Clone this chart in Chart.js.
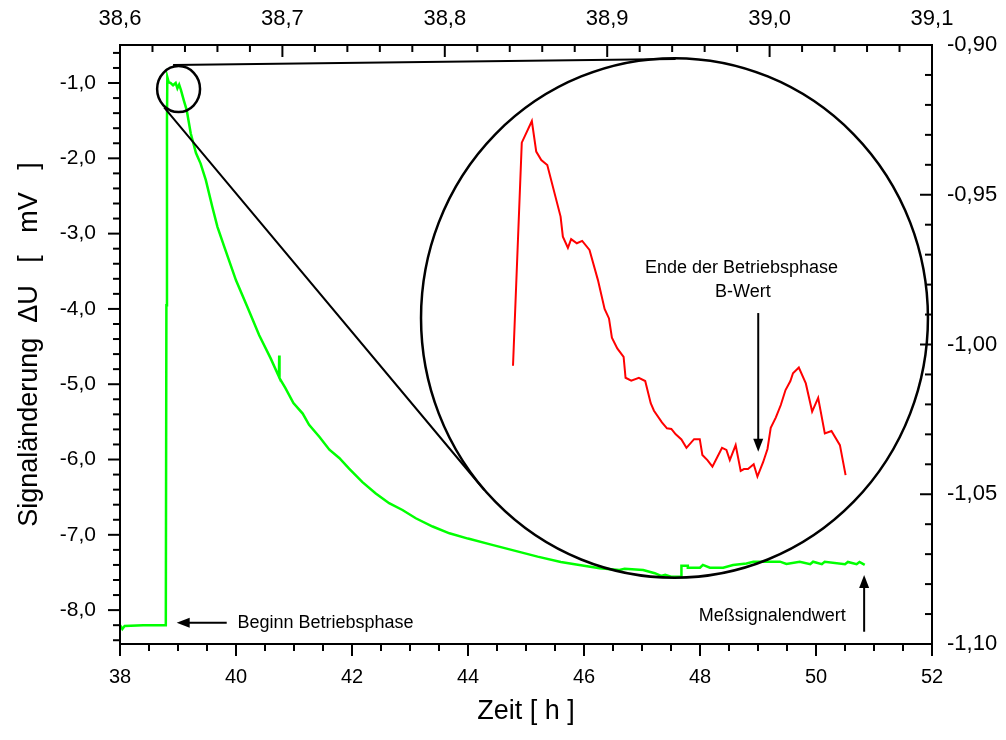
<!DOCTYPE html>
<html>
<head>
<meta charset="utf-8">
<script src="https://cdn.jsdelivr.net/npm/chart.js"></script>
<style>
  body { margin: 0; background: #fff; }
  #wrap { width: 1006px; height: 740px; }
</style>
</head>
<body>
<div id="wrap"><canvas id="chart" width="1006" height="740"></canvas></div>
<script>
// full run (bottom / left axes)
const greenTime = [38.00, 38.04, 38.08, 38.40, 38.79, 38.80, 38.81, 38.816, 38.84, 38.875, 38.915, 38.96, 38.99, 39.02, 39.05,
  39.10, 39.15, 39.22, 39.31, 39.39, 39.48, 39.59, 39.68, 39.80, 40.00, 40.20, 40.40, 40.60, 40.74, 40.745, 40.75, 40.85,
  40.99, 41.15, 41.26, 41.44, 41.61, 41.78, 41.95, 42.18, 42.41, 42.64, 42.87, 43.10, 43.39, 43.68, 44.00, 44.40, 44.80,
  45.20, 45.60, 46.00, 46.27, 46.61, 46.70, 47.02, 47.22, 47.33, 47.40, 47.50, 47.68, 47.68, 47.79, 47.79, 48.00, 48.05,
  48.17, 48.40, 48.57, 48.80, 48.92, 49.38, 49.49, 49.72, 49.90, 49.95, 50.10, 50.15, 50.50, 50.55, 50.70, 50.75, 50.84];
const greenSignal = [-8.20, -8.25, -8.21, -8.20, -8.20, -3.95, -1.50, -0.92, -0.99, -1.00, -1.03, -1.00, -1.07, -1.02, -1.09,
  -1.23, -1.36, -1.67, -1.93, -2.07, -2.29, -2.64, -2.91, -3.18, -3.62, -3.98, -4.35, -4.66, -4.90, -4.62, -4.92, -5.05,
  -5.25, -5.39, -5.54, -5.70, -5.87, -5.98, -6.12, -6.30, -6.45, -6.58, -6.67, -6.78, -6.89, -6.98, -7.05, -7.13, -7.21,
  -7.29, -7.36, -7.41, -7.445, -7.467, -7.45, -7.467, -7.51, -7.547, -7.53, -7.556, -7.556, -7.41, -7.41, -7.437, -7.437, -7.40,
  -7.437, -7.437, -7.40, -7.38, -7.357, -7.357, -7.388, -7.357, -7.39, -7.357, -7.39, -7.357, -7.39, -7.36, -7.39, -7.36, -7.40];

// zoomed peak (top / right axes)
const redTime = [38.8420, 38.8474, 38.8536, 38.8563, 38.8594, 38.8631, 38.8713, 38.8727, 38.8758, 38.8778, 38.8813, 38.8846,
  38.8891, 38.8943, 38.8984, 38.9011, 38.9029, 38.9062, 38.9101, 38.9113, 38.9148, 38.9195, 38.9234, 38.9268, 38.9288,
  38.9337, 38.9368, 38.9395, 38.9422, 38.9457, 38.9488, 38.9535, 38.9570, 38.9586, 38.9617, 38.9648, 38.9679, 38.9707,
  38.9734, 38.9755, 38.9791, 38.9822, 38.9842, 38.9867, 38.9902, 38.9925, 38.9960, 38.9987, 39.0007, 39.0038, 39.0069,
  39.0098, 39.0128, 39.0144, 39.0180, 39.0223, 39.0262, 39.0299, 39.0340, 39.0381, 39.0433, 39.0468];
const redSignal = [-1.0071, -0.9326, -0.9254, -0.9356, -0.9384, -0.9401, -0.9573, -0.9640, -0.9677, -0.9648, -0.9662, -0.9654,
  -0.9684, -0.9785, -0.9881, -0.9913, -0.9977, -1.0013, -1.0041, -1.0111, -1.0121, -1.0111, -1.0122, -1.0196, -1.0221,
  -1.0260, -1.0280, -1.0282, -1.0300, -1.0317, -1.0345, -1.0316, -1.0316, -1.0369, -1.0386, -1.0408, -1.0375, -1.0345,
  -1.0352, -1.0386, -1.0336, -1.0422, -1.0416, -1.0416, -1.0400, -1.0441, -1.0393, -1.0349, -1.0278, -1.0244, -1.0202,
  -1.0152, -1.0122, -1.0096, -1.0077, -1.0130, -1.0224, -1.0178, -1.0297, -1.0289, -1.0336, -1.0436];

const bottomTicks = [38, 40, 42, 44, 46, 48, 50, 52];
const topTicks = [38.6, 38.7, 38.8, 38.9, 39.0, 39.1];
const leftTicks = [-8, -7, -6, -5, -4, -3, -2, -1];
const rightTicks = [-1.10, -1.05, -1.00, -0.95, -0.90];

const FONT = "'Liberation Sans', Arial, sans-serif";
const comma = (v, d) => v.toFixed(d).replace('.', ',');

// zoom decoration, in axis units
const spot = { x: 39.01, y: -1.08, rx: 0.37, ry: 0.305 };
const lens = { x: 47.56, y: -4.12, rx: 4.37, ry: 3.45 };

function drawArrow(ctx, x1, y1, x2, y2) {
  const a = Math.atan2(y2 - y1, x2 - x1);
  const len = 13, half = 5;
  ctx.beginPath();
  ctx.moveTo(x1, y1);
  ctx.lineTo(x2 - Math.cos(a) * len * 0.8, y2 - Math.sin(a) * len * 0.8);
  ctx.stroke();
  ctx.beginPath();
  ctx.moveTo(x2, y2);
  ctx.lineTo(x2 - Math.cos(a) * len - Math.sin(a) * half, y2 - Math.sin(a) * len + Math.cos(a) * half);
  ctx.lineTo(x2 - Math.cos(a) * len + Math.sin(a) * half, y2 - Math.sin(a) * len - Math.cos(a) * half);
  ctx.closePath();
  ctx.fill();
}

function marks(ctx, scale, from, count, step, majors, horiz, base, dir) {
  for (let i = 0; i <= count; i++) {
    const v = from + i * step;
    const major = majors.some(m => Math.abs(m - v) < step / 10);
    const len = major ? 12 : 7;
    const p = scale.getPixelForValue(v);
    ctx.beginPath();
    if (horiz) { ctx.moveTo(p, base); ctx.lineTo(p, base + dir * len); }
    else { ctx.moveTo(base, p); ctx.lineTo(base + dir * len, p); }
    ctx.stroke();
  }
}

const decor = {
  id: 'decor',
  afterDraw(chart) {
    const { ctx, chartArea: a, scales: s } = chart;
    ctx.save();
    ctx.strokeStyle = '#000';
    ctx.fillStyle = '#000';
    ctx.lineWidth = 2;
    ctx.strokeRect(a.left, a.top, a.right - a.left, a.bottom - a.top);

    marks(ctx, s.y, -8.4, 39, 0.2, leftTicks, false, a.left, -1);
    marks(ctx, s.x, 38, 28, 0.5, bottomTicks, true, a.bottom, 1);
    marks(ctx, s.x2, 38.6, 25, 0.02, topTicks, true, a.top, 1);
    marks(ctx, s.y2, -1.10, 20, 0.01, rightTicks, false, a.right, -1);

    // zoom circles and connecting lines
    const ux = s.x.getPixelForValue(1) - s.x.getPixelForValue(0);
    const uy = s.y.getPixelForValue(0) - s.y.getPixelForValue(1);
    ctx.lineWidth = 2.5;
    [spot, lens].forEach(c => {
      ctx.beginPath();
      ctx.ellipse(s.x.getPixelForValue(c.x), s.y.getPixelForValue(c.y), c.rx * ux, c.ry * uy, 0, 0, Math.PI * 2);
      ctx.stroke();
    });
    ctx.lineWidth = 2;
    ctx.beginPath();
    ctx.moveTo(s.x.getPixelForValue(38.915), s.y.getPixelForValue(-0.761));
    ctx.lineTo(s.x.getPixelForValue(47.58), s.y.getPixelForValue(-0.681));
    ctx.moveTo(s.x.getPixelForValue(38.76), s.y.getPixelForValue(-1.323));
    ctx.lineTo(s.x.getPixelForValue(44.28), s.y.getPixelForValue(-6.405));
    ctx.stroke();

    // notes
    ctx.font = '18px ' + FONT;
    ctx.textBaseline = 'middle';
    drawArrow(ctx, s.x.getPixelForValue(39.84), s.y.getPixelForValue(-8.167),
      s.x.getPixelForValue(38.977), s.y.getPixelForValue(-8.167));
    ctx.textAlign = 'left';
    ctx.fillText('Beginn Betriebsphase', s.x.getPixelForValue(40.025), s.y.getPixelForValue(-8.167));

    drawArrow(ctx, s.x.getPixelForValue(50.83), s.y.getPixelForValue(-8.287),
      s.x.getPixelForValue(50.83), s.y.getPixelForValue(-7.534));
    ctx.textAlign = 'center';
    ctx.fillText('Meßsignalendwert', s.x.getPixelForValue(49.246), s.y.getPixelForValue(-8.078));

    drawArrow(ctx, s.x2.getPixelForValue(38.993), s.y2.getPixelForValue(-0.9895),
      s.x2.getPixelForValue(38.993), s.y2.getPixelForValue(-1.0358));
    ctx.fillText('Ende der Betriebsphase', s.x2.getPixelForValue(38.9827), s.y2.getPixelForValue(-0.9745));
    ctx.fillText('B-Wert', s.x2.getPixelForValue(38.9835), s.y2.getPixelForValue(-0.9824));
    ctx.restore();
  }
};

const tickFont = size => ({ family: FONT, size: size });

new Chart(document.getElementById('chart'), {
  type: 'line',
  data: {
    datasets: [
      {
        data: greenTime.map((t, i) => ({ x: t, y: greenSignal[i] })),
        xAxisID: 'x', yAxisID: 'y',
        borderColor: '#00ff00', borderWidth: 2.5, pointRadius: 0, tension: 0
      },
      {
        data: redTime.map((t, i) => ({ x: t, y: redSignal[i] })),
        xAxisID: 'x2', yAxisID: 'y2',
        borderColor: '#ff0000', borderWidth: 2, pointRadius: 0, tension: 0
      }
    ]
  },
  options: {
    responsive: false,
    animation: false,
    devicePixelRatio: 1,
    layout: { padding: 0 },
    plugins: { legend: { display: false }, tooltip: { enabled: false } },
    scales: {
      x: {
        type: 'linear', position: 'bottom', min: 38, max: 52,
        afterBuildTicks: s => { s.ticks = bottomTicks.map(v => ({ value: v })); },
        afterFit: s => { s.height = 96; },
        grid: { display: false, drawTicks: false }, border: { display: false },
        ticks: { padding: 21, color: '#000', font: tickFont(20), maxRotation: 0, autoSkip: false, callback: v => String(v) },
        title: { display: true, text: 'Zeit [ h ]', color: '#000', font: tickFont(27), padding: { bottom: 12 } }
      },
      x2: {
        type: 'linear', position: 'top', min: 38.6, max: 39.1,
        afterBuildTicks: s => { s.ticks = topTicks.map(v => ({ value: v })); },
        afterFit: s => { s.height = 45; },
        grid: { display: false, drawTicks: false }, border: { display: false },
        ticks: { padding: 13, color: '#000', font: tickFont(22), maxRotation: 0, autoSkip: false, callback: v => comma(v, 1) }
      },
      y: {
        type: 'linear', position: 'left', min: -8.45, max: -0.495,
        afterBuildTicks: s => { s.ticks = leftTicks.map(v => ({ value: v })); },
        afterFit: s => { s.width = 120; },
        grid: { display: false, drawTicks: false }, border: { display: false },
        ticks: { padding: 24, color: '#000', font: tickFont(21), autoSkip: false, callback: v => comma(v, 1) },
        title: { display: true, text: 'Signaländerung  ΔU   [   mV   ]', color: '#000', font: tickFont(27), padding: { top: 13 } }
      },
      y2: {
        type: 'linear', position: 'right', min: -1.10, max: -0.90,
        afterBuildTicks: s => { s.ticks = rightTicks.map(v => ({ value: v })); },
        afterFit: s => { s.width = 74; },
        grid: { display: false, drawTicks: false }, border: { display: false },
        ticks: { padding: 15, color: '#000', font: tickFont(22), autoSkip: false, callback: v => comma(v, 2) }
      }
    }
  },
  plugins: [decor]
});
</script>
</body>
</html>
